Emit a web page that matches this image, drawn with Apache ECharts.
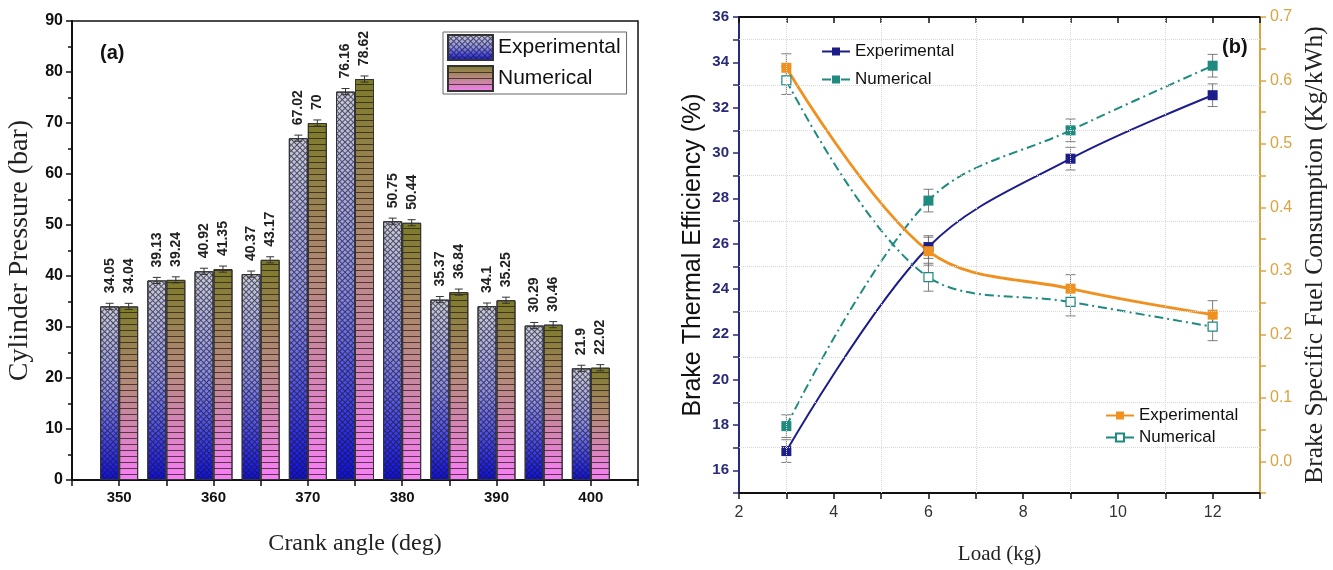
<!DOCTYPE html>
<html><head><meta charset="utf-8">
<script src="https://cdn.jsdelivr.net/npm/echarts@6/dist/echarts.min.js"></script>
<style>html,body{margin:0;padding:0;background:#fff}#c{width:1333px;height:570px}</style>
</head><body><div id="c"></div>
<script>
// ---- data ----
const CRANK = [350, 355, 360, 365, 370, 375, 380, 385, 390, 395, 400];
const P_EXP = [34.05, 39.13, 40.92, 40.37, 67.02, 76.16, 50.75, 35.37, 34.1, 30.29, 21.9];
const P_NUM = [34.04, 39.24, 41.35, 43.17, 70, 78.62, 50.44, 36.84, 35.25, 30.46, 22.02];
const P_ERR = 0.6;

const LOAD = [3, 6, 9, 12];
const BTE_EXP = [16.85, 25.85, 29.75, 32.55];
const BTE_NUM = [17.95, 27.9, 31.0, 33.85];
const BSFC_EXP = [0.62, 0.331, 0.272, 0.231];
const BSFC_NUM = [0.6, 0.29, 0.251, 0.212];
const BTE_ERR = 0.5;
const BSFC_ERR = 0.022;

const GRID_X = [3, 5, 7, 9, 11];
const GRID_Y = [17, 19, 21, 23, 25, 27, 29, 31, 33, 35];

const BAR_W = 19;

const chart = echarts.init(document.getElementById('c'), null, {renderer: 'canvas'});

const expGrad = {type: 'linear', x: 0, y: 0, x2: 0, y2: 1, colorStops: [
  {offset: 0, color: '#cbcbd8'}, {offset: 0.5, color: '#8c8ce4'}, {offset: 1, color: '#0d0de8'}]};
const numGrad = {type: 'linear', x: 0, y: 0, x2: 0, y2: 1, colorStops: [
  {offset: 0, color: '#7b7b28'}, {offset: 0.45, color: '#b58a7c'}, {offset: 1, color: '#f77ff7'}]};

const expDecal = {symbol: 'rect', symbolSize: 1, color: 'rgba(25,25,45,0.7)',
  dashArrayX: [[1, 0], [1, 3]], dashArrayY: [1, 0, 3, 0], rotation: Math.PI / 4};
const numDecal = {symbol: 'rect', symbolSize: 1, color: 'rgba(45,25,25,0.75)',
  dashArrayX: [[1, 0]], dashArrayY: [1, 5], rotation: 0};

function barErr(params, api) {
  const x = api.value(0), y = api.value(1), side = api.value(2);
  const t = api.coord([x, y + P_ERR]), b = api.coord([x, y - P_ERR]);
  const cx = t[0] + side * BAR_W / 2;
  const st = {stroke: '#333', lineWidth: 1};
  return {type: 'group', children: [
    {type: 'line', shape: {x1: cx, y1: t[1], x2: cx, y2: b[1]}, style: st},
    {type: 'line', shape: {x1: cx - 4, y1: t[1], x2: cx + 4, y2: t[1]}, style: st},
    {type: 'line', shape: {x1: cx - 4, y1: b[1], x2: cx + 4, y2: b[1]}, style: st}
  ]};
}
function lineErr(params, api) {
  const x = api.value(0), y = api.value(1), e = api.value(2);
  const t = api.coord([x, y + e]), b = api.coord([x, y - e]);
  const cx = t[0];
  const st = {stroke: 'rgba(110,110,110,0.9)', lineWidth: 1};
  return {type: 'group', children: [
    {type: 'line', shape: {x1: cx, y1: t[1], x2: cx, y2: b[1]}, style: st},
    {type: 'line', shape: {x1: cx - 5, y1: t[1], x2: cx + 5, y2: t[1]}, style: st},
    {type: 'line', shape: {x1: cx - 5, y1: b[1], x2: cx + 5, y2: b[1]}, style: st}
  ]};
}

const barLabel = {show: true, position: 'top', distance: 13, rotate: 90, align: 'left', verticalAlign: 'middle',
  formatter: p => String(p.value[1]), fontFamily: 'Arial, Liberation Sans', fontWeight: 'bold', fontSize: 14, color: '#222'};

const NAVY = '#1c1c8a', TEAL = '#1f8a80', ORANGE = '#f0901e', GOLD = '#d9a441';
const dashDot = [9, 4, 2, 4];

const option = {
  animation: false,
  backgroundColor: '#fff',
  textStyle: {fontFamily: 'Arial, Liberation Sans'},
  grid: [
    {left: 72, right: 695, top: 21, bottom: 90, show: true, borderColor: '#111', borderWidth: 1.5, backgroundColor: 'transparent'},
    {left: 739, right: 73, top: 17, bottom: 76}
  ],
  xAxis: [
    {gridIndex: 0, type: 'value', min: 345, max: 405, interval: 5,
      axisLine: {onZero: false, lineStyle: {color: '#111', width: 2}},
      axisTick: {length: 6, lineStyle: {color: '#111', width: 1.5}},
      axisLabel: {formatter: v => (v % 10 === 0 && v > 345 && v < 405) ? String(v) : '', fontWeight: 'bold', fontSize: 15, color: '#111', margin: 10},
      splitLine: {show: false},
      name: 'Crank angle (deg)', nameLocation: 'middle', nameGap: 52,
      nameTextStyle: {fontFamily: 'Liberation Serif, Times New Roman, serif', fontSize: 24, color: '#222'}},
    {gridIndex: 1, type: 'value', min: 2, max: 13, interval: 1,
      axisLine: {onZero: false, lineStyle: {color: '#111', width: 2}},
      axisTick: {length: 6, lineStyle: {color: '#111', width: 1.5}},
      axisLabel: {formatter: v => (v % 2 === 0 && v < 13) ? String(v) : '', fontSize: 16, color: '#333', margin: 12},
      splitLine: {show: false},
      name: 'Load (kg)', nameLocation: 'middle', nameGap: 51,
      nameTextStyle: {fontFamily: 'Liberation Serif, Times New Roman, serif', fontSize: 21, color: '#222'}},
    {gridIndex: 1, type: 'value', position: 'top', min: 2, max: 13, interval: 1,
      axisLine: {onZero: false, lineStyle: {color: '#111', width: 2}},
      axisTick: {inside: true, length: 6, lineStyle: {color: '#111', width: 1.5}},
      axisLabel: {show: false}, splitLine: {show: false}}
  ],
  yAxis: [
    {gridIndex: 0, type: 'value', min: 0, max: 90, interval: 10,
      axisLine: {show: true, onZero: false, lineStyle: {color: '#111', width: 2}},
      axisTick: {show: true, length: 6, lineStyle: {color: '#111', width: 1.5}},
      minorTick: {show: true, splitNumber: 2, length: 4, lineStyle: {color: '#111', width: 1.5}},
      axisLabel: {fontWeight: 'bold', fontSize: 16, color: '#111', margin: 9},
      splitLine: {show: false},
      name: 'Cylinder Pressure (bar)', nameLocation: 'middle', nameGap: 38,
      nameTextStyle: {fontFamily: 'Liberation Serif, Times New Roman, serif', fontSize: 28, color: '#222'}},
    {gridIndex: 1, type: 'value', min: 15, max: 36, interval: 1, position: 'left',
      axisLine: {show: true, onZero: false, lineStyle: {color: '#2a2a7a', width: 2}},
      axisTick: {show: true, length: 6, lineStyle: {color: '#2a2a7a', width: 1.5}},
      axisLabel: {formatter: v => (v % 2 === 0) ? String(v) : '', fontWeight: 'bold', fontSize: 15, color: '#2a2a7a', margin: 10},
      splitLine: {show: false},
      name: 'Brake Thermal Efficiency (%)', nameLocation: 'middle', nameGap: 33,
      nameTextStyle: {fontSize: 25, color: '#111'}},
    {gridIndex: 1, type: 'value', min: -0.05, max: 0.7, interval: 0.05, position: 'right',
      axisLine: {show: true, onZero: false, lineStyle: {color: GOLD, width: 2}},
      axisTick: {show: true, length: 6, lineStyle: {color: GOLD, width: 1.5}},
      axisLabel: {formatter: v => { const k = Math.round(v * 20); return (k % 2 === 0) ? (k / 20).toFixed(1) : ''; },
        fontSize: 16, color: GOLD, margin: 10},
      splitLine: {show: false},
      name: 'Brake Specific Fuel Consumption (Kg/kWh)', nameLocation: 'middle', nameGap: 42, nameRotate: 90,
      nameTextStyle: {fontFamily: 'Liberation Serif, Times New Roman, serif', fontSize: 25.5, color: '#222'}}
  ],
  legend: [
    {data: ['Experimental', 'Numerical'], orient: 'vertical', left: 443, top: 32, itemWidth: 45, itemHeight: 25, itemGap: 4,
      icon: 'rect', padding: [2, 6, 2, 4], borderColor: '#666', borderWidth: 1, backgroundColor: '#fff',
      textStyle: {fontSize: 21, color: '#111'}},
    {data: ['BTE Experimental', 'BTE Numerical'], orient: 'vertical', left: 816, top: 38, itemWidth: 28, itemHeight: 10, itemGap: 11,
      formatter: n => n.replace('BTE ', ''), textStyle: {fontSize: 17, color: '#111'}},
    {data: ['BSFC Experimental', 'BSFC Numerical'], orient: 'vertical', left: 1100, top: 402, itemWidth: 28, itemHeight: 10, itemGap: 5,
      formatter: n => n.replace('BSFC ', ''), textStyle: {fontSize: 17, color: '#111'}}
  ],
  graphic: [
    {type: 'text', left: 100, top: 43, style: {text: '(a)', font: 'bold 20px Arial', fill: '#111'}},
    {type: 'text', left: 1222, top: 37, style: {text: '(b)', font: 'bold 20px Arial', fill: '#111'}}
  ],
  series: [
    {name: 'Experimental', type: 'bar', xAxisIndex: 0, yAxisIndex: 0, barWidth: BAR_W, barGap: '0%',
      data: CRANK.map((c, i) => [c, P_EXP[i]]),
      itemStyle: {color: expGrad, borderColor: '#333', borderWidth: 1, decal: expDecal},
      label: barLabel, z: 2},
    {name: 'Numerical', type: 'bar', xAxisIndex: 0, yAxisIndex: 0, barWidth: BAR_W, barGap: '0%',
      data: CRANK.map((c, i) => [c, P_NUM[i]]),
      itemStyle: {color: numGrad, borderColor: '#333', borderWidth: 1, decal: numDecal},
      label: barLabel, z: 2},
    {type: 'custom', xAxisIndex: 0, yAxisIndex: 0, renderItem: barErr, z: 5, silent: true,
      data: CRANK.map((c, i) => [c, P_EXP[i], -1]).concat(CRANK.map((c, i) => [c, P_NUM[i], 1]))},
    {type: 'line', xAxisIndex: 1, yAxisIndex: 1, data: [], z: 0, silent: true,
      markLine: {silent: true, symbol: 'none', label: {show: false}, animation: false,
        lineStyle: {color: '#d8d8d8', type: 'dotted', width: 1},
        data: GRID_X.map(v => ({xAxis: v})).concat(GRID_Y.map(v => ({yAxis: v})))}},
    {type: 'custom', xAxisIndex: 1, yAxisIndex: 1, renderItem: lineErr, z: 3, silent: true,
      data: LOAD.map((x, i) => [x, BTE_EXP[i], BTE_ERR]).concat(LOAD.map((x, i) => [x, BTE_NUM[i], BTE_ERR]))},
    {type: 'custom', xAxisIndex: 1, yAxisIndex: 2, renderItem: lineErr, z: 3, silent: true,
      data: LOAD.map((x, i) => [x, BSFC_EXP[i], BSFC_ERR]).concat(LOAD.map((x, i) => [x, BSFC_NUM[i], BSFC_ERR]))},
    {name: 'BTE Experimental', type: 'line', xAxisIndex: 1, yAxisIndex: 1, smooth: 0.35,
      data: LOAD.map((x, i) => [x, BTE_EXP[i]]), symbol: 'rect', symbolSize: 10,
      itemStyle: {color: NAVY}, lineStyle: {color: NAVY, width: 2}, z: 4},
    {name: 'BTE Numerical', type: 'line', xAxisIndex: 1, yAxisIndex: 1, smooth: 0.35,
      data: LOAD.map((x, i) => [x, BTE_NUM[i]]), symbol: 'rect', symbolSize: 10,
      itemStyle: {color: TEAL}, lineStyle: {color: TEAL, width: 2, type: dashDot}, z: 4},
    {name: 'BSFC Experimental', type: 'line', xAxisIndex: 1, yAxisIndex: 2, smooth: 0.35,
      data: LOAD.map((x, i) => [x, BSFC_EXP[i]]), symbol: 'rect', symbolSize: 10,
      itemStyle: {color: ORANGE}, lineStyle: {color: ORANGE, width: 2.8}, z: 4},
    {name: 'BSFC Numerical', type: 'line', xAxisIndex: 1, yAxisIndex: 2, smooth: 0.35,
      data: LOAD.map((x, i) => [x, BSFC_NUM[i]]), symbol: 'rect', symbolSize: 9,
      itemStyle: {color: '#fff', borderColor: TEAL, borderWidth: 1.2}, lineStyle: {color: TEAL, width: 2, type: dashDot}, z: 4}
  ]
};
chart.setOption(option);
</script>
</body></html>
